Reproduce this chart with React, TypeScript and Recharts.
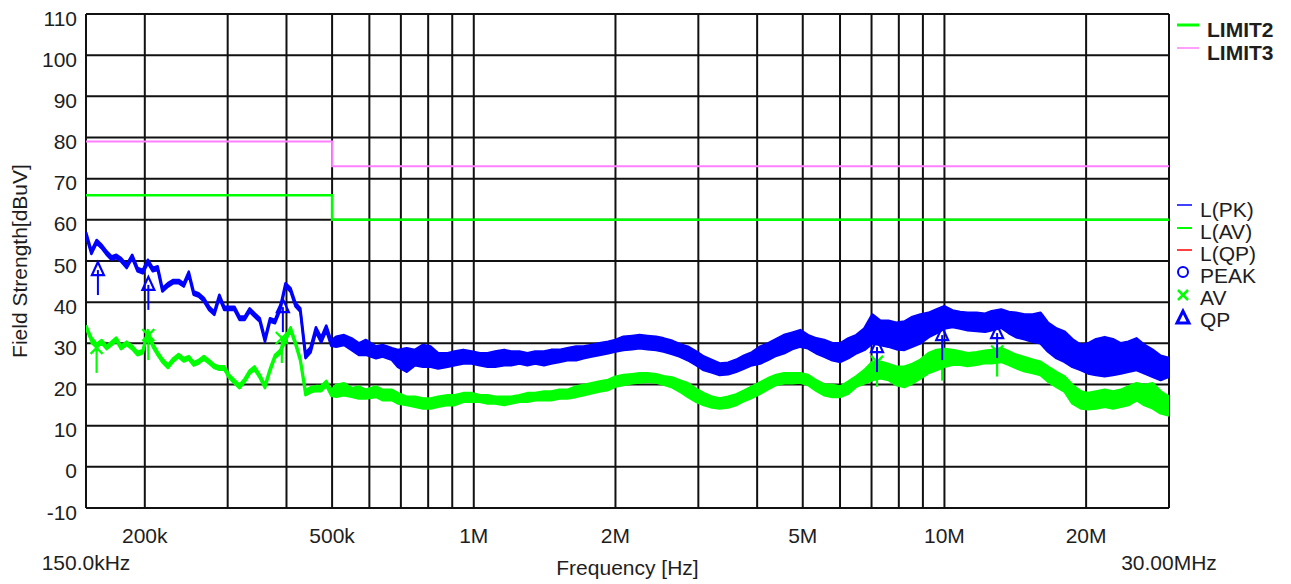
import React from "react";
import { Area, CartesianGrid, ComposedChart, Line, Scatter, XAxis, YAxis } from "recharts";

// frequency axis in MHz (log), 150 kHz .. 30 MHz
const freqMHz = [
  0.15, 0.154, 0.158, 0.162, 0.166, 0.17, 0.174, 0.178, 0.183, 0.188, 0.193, 0.198, 0.203, 0.208, 0.213,
  0.218, 0.224, 0.23, 0.236, 0.242, 0.248, 0.254, 0.26, 0.267, 0.274, 0.281, 0.288, 0.295, 0.302, 0.31,
  0.318, 0.326, 0.334, 0.342, 0.351, 0.36, 0.369, 0.378, 0.388, 0.398, 0.408, 0.418, 0.428, 0.439, 0.45,
  0.462, 0.474, 0.486, 0.498,
  0.51, 0.53, 0.55, 0.57, 0.59, 0.62, 0.64, 0.67, 0.69, 0.72, 0.75, 0.78, 0.81, 0.84, 0.88, 0.91, 0.95,
  0.99, 1.03, 1.07, 1.11, 1.16, 1.2, 1.25, 1.3, 1.35, 1.41, 1.46, 1.52, 1.58, 1.65, 1.71, 1.78, 1.85,
  1.93, 2.0, 2.08, 2.17, 2.25, 2.34, 2.44, 2.53, 2.64, 2.74, 2.85, 2.97, 3.08, 3.21, 3.33, 3.47, 3.61,
  3.75, 3.9, 4.06, 4.22, 4.39, 4.56, 4.75, 4.94, 5.13, 5.34, 5.55, 5.78, 6.01, 6.25, 6.5, 6.76, 7.03,
  7.31, 7.6, 7.9, 8.22, 8.55, 8.89, 9.25, 9.62, 10.0, 10.4, 10.8, 11.2, 11.7, 12.2, 12.6, 13.2, 13.7,
  14.2, 14.8, 15.4, 16.0, 16.6, 17.3, 18.0, 18.7, 19.5, 20.2, 21.0, 21.9, 22.8, 23.7, 24.6, 25.6, 26.6,
  27.7, 28.8, 30.0,
];

// L(PK) trace, lower / upper edge of the noise band (dBuV)
const pkLow = [
  56.2, 51.7, 54.3, 53.1, 51.5, 50.3, 50.7, 49.9, 48.3, 50.7, 47.5, 47.0, 49.5, 47.5, 47.9,
  42.6, 43.8, 44.6, 44.6, 43.8, 46.6, 41.8, 41.4, 40.2, 38.1, 36.9, 41.0, 38.1, 38.1, 38.1,
  35.7, 35.7, 37.7, 36.5, 35.3, 30.4, 35.3, 34.9, 38.1, 43.8, 42.6, 39.0, 37.7, 26.4, 27.8,
  32.7, 30.2, 33.1, 29.4,
  29.2, 29.6, 28.4, 27.2, 27.2, 26.4, 26.8, 26.0, 24.3, 23.1, 24.7, 24.3, 24.3, 23.9, 24.3,
  24.7, 25.1, 25.1, 24.7, 24.3, 24.3, 24.7, 24.7, 25.1, 24.7, 25.1, 24.7, 25.1, 25.5, 25.9,
  25.9, 26.4, 26.8, 27.2, 27.6, 28.0, 28.4, 28.6, 28.8, 28.6, 28.4, 28.0, 27.4, 26.8, 25.9,
  24.7, 23.5, 22.9, 22.3, 22.5, 23.1, 23.9, 24.7, 25.1, 26.0, 27.0, 27.6, 28.6, 29.2, 28.8,
  27.6, 26.8, 25.9, 25.5, 26.4, 27.6, 28.4, 30.0, 29.6, 29.2, 28.6, 28.4, 29.2, 30.0, 31.5,
  32.5, 33.6, 34.0, 33.6, 33.2, 33.0, 32.8, 33.2, 33.8, 32.5, 31.5, 31.0, 30.4, 30.0, 28.0,
  26.4, 25.5, 24.3, 23.5, 22.7, 22.3, 22.0, 22.3, 22.7, 23.1, 23.5, 22.7, 21.9, 21.1, 21.9,
];
const pkHigh = [
  57.0, 52.5, 55.1, 53.9, 52.3, 51.1, 51.5, 50.7, 49.1, 51.5, 48.3, 47.8, 50.3, 48.3, 48.7,
  43.4, 44.6, 45.4, 45.4, 44.6, 47.4, 42.6, 42.2, 41.0, 38.9, 37.7, 41.8, 38.9, 38.9, 38.9,
  36.5, 36.5, 38.5, 37.3, 36.1, 31.2, 36.1, 35.7, 38.9, 44.6, 43.4, 39.8, 38.5, 27.6, 29.0,
  33.9, 31.4, 34.3, 30.6,
  31.6, 32.0, 31.2, 30.0, 30.8, 29.2, 29.6, 28.8, 28.4, 28.8, 28.4, 29.6, 29.2, 27.6, 27.6,
  28.0, 28.4, 28.0, 27.6, 27.6, 28.0, 28.4, 28.0, 28.0, 27.6, 28.0, 28.0, 28.4, 28.4, 28.8,
  29.2, 29.2, 29.6, 30.0, 30.4, 30.8, 31.6, 31.8, 32.0, 31.8, 31.6, 31.2, 30.6, 29.8, 29.2,
  28.0, 26.8, 25.9, 25.1, 25.3, 26.0, 27.0, 27.8, 29.2, 30.0, 31.0, 32.0, 32.6, 33.2, 32.0,
  31.2, 30.8, 30.0, 30.0, 31.2, 32.0, 33.6, 37.0, 35.5, 35.5, 35.0, 35.3, 36.4, 37.0, 37.4,
  38.2, 39.0, 38.0, 37.6, 37.4, 37.4, 37.2, 37.8, 38.2, 37.6, 37.4, 37.0, 37.0, 37.4, 35.0,
  33.6, 32.8, 31.0, 29.6, 30.0, 31.0, 31.5, 31.0, 30.0, 30.4, 31.2, 29.6, 28.4, 27.0, 26.4,
];

// L(AV) trace, lower / upper edge (dBuV)
const avLow = [
  33.6, 30.6, 29.1, 30.0, 28.6, 29.6, 30.6, 28.6, 29.6, 28.6, 27.1, 27.6, 32.4, 29.1, 27.1,
  25.4, 24.0, 25.6, 26.6, 25.6, 26.1, 24.6, 25.1, 26.1, 25.1, 24.0, 23.6, 23.6, 21.6, 20.3,
  19.1, 20.6, 22.6, 23.6, 21.6, 19.1, 23.1, 26.4, 27.6, 30.6, 33.1, 29.6, 25.6, 17.4, 18.1,
  18.4, 18.4, 19.7, 17.3,
  17.0, 17.4, 17.0, 16.6, 16.6, 17.0, 16.2, 16.2, 15.4, 15.0, 14.6, 14.2, 14.2, 14.6, 15.0,
  15.0, 15.8, 15.8, 15.8, 15.4, 15.4, 15.0, 15.4, 15.8, 15.8, 16.2, 16.2, 16.2, 16.6, 16.6,
  17.0, 17.4, 17.9, 18.3, 18.7, 19.5, 19.9, 20.3, 20.5, 20.7, 20.5, 20.0, 19.3, 18.3, 17.0,
  15.8, 15.0, 14.4, 14.2, 14.4, 15.0, 16.0, 16.8, 17.8, 18.9, 19.9, 20.3, 20.3, 20.5, 19.9,
  18.5, 17.4, 17.0, 17.0, 17.8, 19.5, 20.3, 21.1, 21.5, 21.1, 19.9, 19.4, 20.3, 21.5, 22.8,
  23.5, 24.3, 24.8, 24.8, 24.5, 24.8, 25.2, 25.2, 25.5, 24.8, 24.0, 23.2, 22.8, 22.3, 20.7,
  19.4, 18.3, 15.4, 14.2, 14.0, 14.2, 14.6, 14.2, 14.6, 15.0, 16.2, 15.0, 14.2, 13.0, 12.5,
];
const avHigh = [
  34.4, 31.4, 29.9, 30.8, 29.4, 30.4, 31.4, 29.4, 30.4, 29.4, 27.9, 28.4, 33.2, 29.9, 27.9,
  26.2, 24.8, 26.4, 27.4, 26.4, 26.9, 25.4, 25.9, 26.9, 25.9, 24.8, 24.4, 24.4, 22.4, 21.1,
  19.9, 21.4, 23.4, 24.4, 22.4, 19.9, 23.9, 27.2, 28.4, 31.4, 33.9, 30.4, 26.4, 18.6, 19.3,
  19.6, 19.6, 20.9, 18.5,
  19.9, 20.3, 19.1, 19.5, 18.7, 19.5, 18.7, 18.7, 17.9, 17.0, 17.0, 16.6, 16.6, 17.0, 17.4,
  17.4, 17.9, 17.9, 17.4, 17.4, 17.0, 17.0, 17.0, 17.4, 17.9, 17.9, 18.3, 18.3, 18.7, 18.7,
  19.5, 19.9, 20.3, 20.7, 21.1, 21.9, 22.3, 22.5, 22.7, 22.7, 22.5, 22.0, 21.7, 21.0, 20.3,
  18.9, 17.9, 17.0, 16.6, 17.0, 17.6, 18.5, 19.5, 20.5, 21.5, 22.3, 22.7, 22.7, 22.7, 22.3,
  21.0, 20.0, 19.9, 19.5, 20.7, 22.0, 23.5, 25.5, 25.5, 25.0, 24.3, 24.3, 25.0, 26.0, 27.6,
  28.4, 28.6, 28.4, 28.0, 27.6, 27.8, 28.2, 28.4, 28.8, 28.0, 27.2, 26.6, 26.0, 25.5, 24.3,
  23.0, 21.9, 19.9, 18.3, 17.9, 18.3, 18.7, 18.3, 18.7, 19.5, 20.3, 19.9, 20.3, 18.3, 17.0,
];

// limit lines (step at 500 kHz)
const limitFreq = [0.15, 0.5, 30];
const limit2 = [66, 60, 60];
const limit3 = [79, 73, 73];

// final measurement markers
const qpFreq = [0.159, 0.2035, 0.393, 7.19, 9.89, 12.94];
const qpLevel = [47.8, 44.2, 38.8, 29.1, 32.0, 32.5];
const avMarkFreq = [0.158, 0.2035, 0.391, 7.19, 9.89, 12.94];
const avMarkLevel = [28.9, 32.0, 31.3, 25.5, 27.0, 28.0];

const xTicks = [0.15, 0.2, 0.3, 0.4, 0.5, 0.6, 0.7, 0.8, 0.9, 1, 2, 3, 4, 5, 6, 7, 8, 9, 10, 20, 30];
const xTickLabels: Record<string, string> = {
  "0.2": "200k",
  "0.5": "500k",
  "1": "1M",
  "2": "2M",
  "5": "5M",
  "10": "10M",
  "20": "20M",
};
const yTicks = [-10, 0, 10, 20, 30, 40, 50, 60, 70, 80, 90, 100, 110];

const BLUE = "#0000ff";
const GREEN = "#00ff00";
const PINK = "#ff80ff";
const RED = "#ff0000";
const TEXT = "#1e1e1e";
const FONT = '"Liberation Sans", Arial, sans-serif';

const traceRows = freqMHz.map((f, i) => ({
  f,
  pk: [pkLow[i], pkHigh[i]],
  av: [avLow[i], avHigh[i]],
}));
const limit2Rows = limitFreq.map((f, i) => ({ f, v: limit2[i] }));
const limit3Rows = limitFreq.map((f, i) => ({ f, v: limit3[i] }));
const qpRows = qpFreq.map((f, i) => ({ f, v: qpLevel[i] }));
const avMarkRows = avMarkFreq.map((f, i) => ({ f, v: avMarkLevel[i] }));

function XTick(props: any) {
  const { x, y, payload } = props;
  const v = payload.value;
  if (v === 0.15 || v === 30) {
    return (
      <text x={x} y={y + 62} textAnchor="middle" fontSize={21} fill={TEXT} fontFamily={FONT}>
        {v === 0.15 ? "150.0kHz" : "30.00MHz"}
      </text>
    );
  }
  const label = xTickLabels[String(v)];
  if (!label) return <g />;
  return (
    <text x={x} y={y + 35} textAnchor="middle" fontSize={21} fill={TEXT} fontFamily={FONT}>
      {label}
    </text>
  );
}

function YTick(props: any) {
  const { x, y, payload } = props;
  return (
    <text x={x} y={y + 11.5} textAnchor="end" fontSize={21} fill={TEXT} fontFamily={FONT}>
      {payload.value}
    </text>
  );
}

function QpMark(props: any) {
  const { cx, cy } = props;
  return (
    <g>
      <line x1={cx} y1={cy} x2={cx} y2={cy + 25} stroke={BLUE} strokeWidth={2} />
      <polygon
        points={`${cx},${cy - 8} ${cx - 6},${cy + 5} ${cx + 6},${cy + 5}`}
        fill="none"
        stroke={BLUE}
        strokeWidth={2.2}
      />
    </g>
  );
}

function AvMark(props: any) {
  const { cx, cy } = props;
  return (
    <g stroke={GREEN} strokeWidth={2.2}>
      <line x1={cx} y1={cy} x2={cx} y2={cy + 25} />
      <line x1={cx - 6} y1={cy - 6} x2={cx + 6} y2={cy + 6} />
      <line x1={cx - 6} y1={cy + 6} x2={cx + 6} y2={cy - 6} />
    </g>
  );
}

function Overlay() {
  const t = { fontFamily: FONT, fill: TEXT, fontSize: 21 };
  return (
    <svg
      width={1275}
      height={576}
      style={{ position: "absolute", left: 0, top: 0, pointerEvents: "none" }}
    >
      <text
        x={11}
        y={253}
        textAnchor="middle"
        dominantBaseline="central"
        transform="rotate(-90, 11, 253)"
        {...t}
      >
        Field Strength[dBuV]
      </text>
      <text x={619.5} y={567} textAnchor="middle" {...t}>
        Frequency [Hz]
      </text>

      <line x1={1169} y1={17} x2={1191} y2={17} stroke={GREEN} strokeWidth={3} />
      <text x={1199} y={29} fontWeight="bold" {...t}>LIMIT2</text>
      <line x1={1169} y1={40} x2={1191} y2={40} stroke={PINK} strokeWidth={1.5} />
      <text x={1199} y={52} fontWeight="bold" {...t}>LIMIT3</text>

      <line x1={1169} y1={197} x2={1184} y2={197} stroke={BLUE} strokeWidth={1.5} />
      <text x={1192} y={209} {...t}>L(PK)</text>
      <line x1={1169} y1={220} x2={1184} y2={220} stroke={GREEN} strokeWidth={2} />
      <text x={1192} y={231} {...t}>L(AV)</text>
      <line x1={1169} y1={242} x2={1184} y2={242} stroke={RED} strokeWidth={1.5} />
      <text x={1192} y={253} {...t}>L(QP)</text>
      <circle cx={1175} cy={264} r={5} fill="none" stroke={BLUE} strokeWidth={2} />
      <text x={1192} y={275} {...t}>PEAK</text>
      <g stroke={GREEN} strokeWidth={2.5}>
        <line x1={1170} y1={282} x2={1180} y2={292} />
        <line x1={1170} y1={292} x2={1180} y2={282} />
      </g>
      <text x={1192} y={297} {...t}>AV</text>
      <polygon points="1175,303 1169,315 1181,315" fill="none" stroke={BLUE} strokeWidth={3} />
      <text x={1192} y={319} {...t}>QP</text>
    </svg>
  );
}

export default function App() {
  return (
    <div style={{ position: "relative", width: 1275, height: 576, fontFamily: FONT }}>
      <ComposedChart
        width={1275}
        height={576}
        data={traceRows}
        margin={{ top: 6, right: 114, bottom: 36, left: 8 }}
      >
        <CartesianGrid stroke="#111" strokeWidth={2} />
        <XAxis
          dataKey="f"
          type="number"
          scale="log"
          domain={[0.15, 30]}
          allowDataOverflow
          ticks={xTicks}
          interval={0}
          height={40}
          axisLine={false}
          tickLine={false}
          tickSize={0}
          tickMargin={0}
          tick={<XTick />}
        />
        <YAxis
          type="number"
          domain={[-10, 110]}
          allowDataOverflow
          ticks={yTicks}
          interval={0}
          width={70}
          axisLine={false}
          tickLine={false}
          tickSize={0}
          tickMargin={9}
          tick={<YTick />}
        />
        <Line
          data={limit3Rows}
          dataKey="v"
          type="stepAfter"
          stroke={PINK}
          strokeWidth={2}
          dot={false}
          activeDot={false}
          isAnimationActive={false}
        />
        <Line
          data={limit2Rows}
          dataKey="v"
          type="stepAfter"
          stroke={GREEN}
          strokeWidth={2.5}
          dot={false}
          activeDot={false}
          isAnimationActive={false}
        />
        <Area
          dataKey="pk"
          type="linear"
          stroke={BLUE}
          strokeWidth={2.6}
          strokeLinejoin="round"
          fill={BLUE}
          fillOpacity={1}
          dot={false}
          activeDot={false}
          isAnimationActive={false}
        />
        <Area
          dataKey="av"
          type="linear"
          stroke={GREEN}
          strokeWidth={2.6}
          strokeLinejoin="round"
          fill={GREEN}
          fillOpacity={1}
          dot={false}
          activeDot={false}
          isAnimationActive={false}
        />
        <Scatter data={avMarkRows} dataKey="v" shape={<AvMark />} isAnimationActive={false} />
        <Scatter data={qpRows} dataKey="v" shape={<QpMark />} isAnimationActive={false} />
      </ComposedChart>
      <Overlay />
    </div>
  );
}
